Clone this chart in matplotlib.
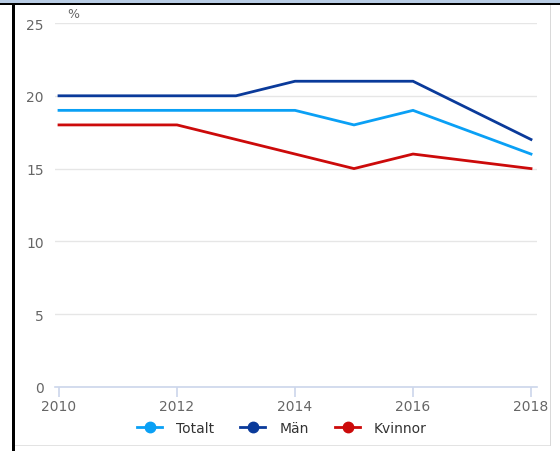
import matplotlib
matplotlib.use("Agg")
import matplotlib.pyplot as plt
from matplotlib.lines import Line2D
from matplotlib.patches import Rectangle

# data
years = [2010, 2011, 2012, 2013, 2014, 2015, 2016, 2018]
totalt = [19, 19, 19, 19, 19, 18, 19, 16]
man = [20, 20, 20, 20, 21, 21, 21, 17]
kvinnor = [18, 18, 18, 17, 16, 15, 16, 15]
series_names = ["Totalt", "Män", "Kvinnor"]
series_colors = ["#0aa0f5", "#0a3a9a", "#cc0a0a"]
x_ticks = [2010, 2012, 2014, 2016, 2018]
y_ticks = [0, 5, 10, 15, 20, 25]

W, H = 560, 452


def fx(px):
    return px / W


def fy(py):
    return (H - py) / H


fig = plt.figure(figsize=(5.6, 4.52), dpi=100)
fig.patch.set_facecolor("white")

# frame decoration around the screenshot
fig.add_artist(Rectangle((0, fy(4)), 1, 4 / H, transform=fig.transFigure,
                         color="#b8cce4", lw=0))
fig.add_artist(Rectangle((0, fy(6)), 1, 2 / H, transform=fig.transFigure,
                         color="black", lw=0))
fig.add_artist(Rectangle((fx(12), 0), 3 / W, fy(6), transform=fig.transFigure,
                         color="black", lw=0))
fig.add_artist(Rectangle((fx(549.5), fy(447)), 1.2 / W, (441) / H,
                         transform=fig.transFigure, color="#d9d9d9", lw=0))
fig.add_artist(Rectangle((fx(15), fy(447)), (535) / W, 1.2 / H,
                         transform=fig.transFigure, color="#e3e3e3", lw=0))

ax = fig.add_axes([fx(55), fy(388), fx(537) - fx(55), fy(24) - fy(388)])
for y, name, c in zip([totalt, man, kvinnor], series_names, series_colors):
    ax.plot(years, y, color=c, lw=2, label=name, solid_joinstyle="miter")

ax.set_xlim(2010 - 4 / 59, 2018 + 6 / 59)
ax.set_ylim(0, 25)
ax.set_xticks(x_ticks)
ax.set_yticks(y_ticks)
ax.grid(axis="y", color="#e6e6e6", lw=1)
ax.set_axisbelow(True)
for s in ["top", "right", "left"]:
    ax.spines[s].set_visible(False)
ax.spines["bottom"].set_color("#ccd6eb")
ax.spines["bottom"].set_linewidth(1.2)
ax.tick_params(axis="x", length=7, width=1.2, color="#ccd6eb",
               labelcolor="#666666", labelsize=10, pad=2)
ax.tick_params(axis="y", length=0, labelcolor="#666666", labelsize=10, pad=8)

fig.text(fx(73), fy(14), "%", color="#666666", fontsize=9,
         ha="center", va="center")

handles = [Line2D([], [], color=c, lw=2, marker="o", markersize=7.5)
           for c in series_colors]
fig.legend(handles, series_names, loc="center", ncol=3,
           bbox_to_anchor=(fx(282), fy(429)), frameon=False,
           fontsize=10, labelcolor="#333333", handlelength=1.8,
           handletextpad=1.0, columnspacing=1.9)

fig.savefig("out.png", dpi=100)
